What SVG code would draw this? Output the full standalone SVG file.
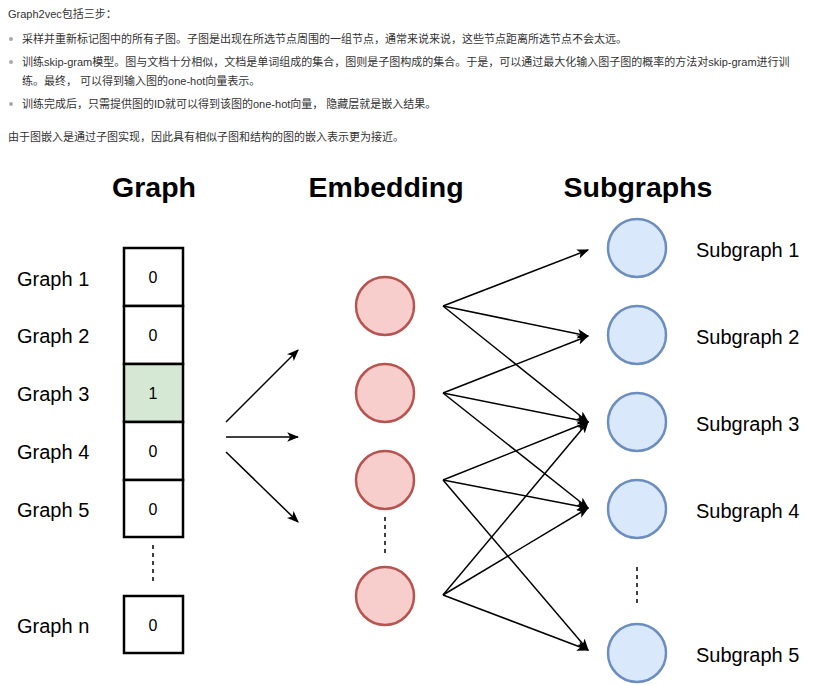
<svg xmlns="http://www.w3.org/2000/svg" width="815" height="685" viewBox="0 0 815 685">
<style>
.intro{font-family:"Liberation Sans","Noto Sans CJK SC",sans-serif;font-size:11px;fill:#333}
.bullet{fill:#aaa}
.head{font-family:"Liberation Sans",Arial,sans-serif;font-size:28.5px;font-weight:bold;fill:#000;text-anchor:middle}
.lbl{font-family:"Liberation Sans",Arial,sans-serif;font-size:20px;fill:#000}
.num{font-family:"Liberation Sans",Arial,sans-serif;font-size:16px;fill:#000;text-anchor:middle}
.box{fill:#fff;stroke:#000;stroke-width:2.5}
.box.on{fill:#d5e8d4}
.emb{fill:#f8cecc;stroke:#b85450;stroke-width:2.5}
.sub{fill:#dae8fc;stroke:#6c8ebf;stroke-width:2.5}
.dash{stroke:#000;stroke-width:1.5;stroke-dasharray:4,4;fill:none}
.edge{stroke:#000;stroke-width:1.5;fill:none;marker-end:url(#arr)}
</style>
<defs>
<marker id="arr" viewBox="0 0 10 8" refX="9" refY="4" markerWidth="12" markerHeight="10" markerUnits="userSpaceOnUse" orient="auto">
<path d="M0,0 L10,4 L0,8 L2.5,4 z" fill="#000"/>
</marker>
</defs>
<rect width="815" height="685" fill="#fff"/>
<g id="intro">
<text class="intro" x="8" y="18">Graph2vec包括三步：</text>
<circle class="bullet" cx="11" cy="39" r="2"/>
<text class="intro" x="22" y="43">采样并重新标记图中的所有子图。子图是出现在所选节点周围的一组节点，通常来说来说，这些节点距离所选节点不会太远。</text>
<circle class="bullet" cx="11" cy="62" r="2"/>
<text class="intro" x="22" y="66">训练skip-gram模型。图与文档十分相似，文档是单词组成的集合，图则是子图构成的集合。于是，可以通过最大化输入图子图的概率的方法对skip-gram进行训</text>
<text class="intro" x="22" y="85">练。最终， 可以得到输入图的one-hot向量表示。</text>
<circle class="bullet" cx="11" cy="104" r="2"/>
<text class="intro" x="22" y="108">训练完成后，只需提供图的ID就可以得到该图的one-hot向量， 隐藏层就是嵌入结果。</text>
<text class="intro" x="8" y="141">由于图嵌入是通过子图实现，因此具有相似子图和结构的图的嵌入表示更为接近。</text>
</g>
<g id="headings">
<text class="head" x="154" y="197">Graph</text>
<text class="head" x="386" y="197">Embedding</text>
<text class="head" x="638" y="197">Subgraphs</text>
</g>
<g id="graph1"><text class="lbl" x="17" y="286">Graph 1</text><rect class="box" x="124" y="248" width="59" height="58"/><text class="num" x="153" y="283">0</text></g>
<g id="graph2"><text class="lbl" x="17" y="343">Graph 2</text><rect class="box" x="124" y="306" width="59" height="58"/><text class="num" x="153" y="341">0</text></g>
<g id="graph3"><text class="lbl" x="17" y="401">Graph 3</text><rect class="box on" x="124" y="364" width="59" height="58"/><text class="num" x="153" y="399">1</text></g>
<g id="graph4"><text class="lbl" x="17" y="459">Graph 4</text><rect class="box" x="124" y="422" width="59" height="58"/><text class="num" x="153" y="457">0</text></g>
<g id="graph5"><text class="lbl" x="17" y="517">Graph 5</text><rect class="box" x="124" y="480" width="59" height="57"/><text class="num" x="153" y="515">0</text></g>
<g id="graphn"><text class="lbl" x="17" y="633">Graph n</text><rect class="box" x="124" y="596" width="59" height="57"/><text class="num" x="153" y="631">0</text></g>
<g id="emb1"><circle class="emb" cx="385" cy="306" r="29"/></g>
<g id="emb2"><circle class="emb" cx="385" cy="393" r="29"/></g>
<g id="emb3"><circle class="emb" cx="385" cy="480" r="29"/></g>
<g id="emb4"><circle class="emb" cx="385" cy="596" r="29"/></g>
<g id="sub1"><circle class="sub" cx="637" cy="248" r="29"/><text class="lbl" x="696" y="257">Subgraph 1</text></g>
<g id="sub2"><circle class="sub" cx="637" cy="335" r="29"/><text class="lbl" x="696" y="344">Subgraph 2</text></g>
<g id="sub3"><circle class="sub" cx="637" cy="422" r="29"/><text class="lbl" x="696" y="431">Subgraph 3</text></g>
<g id="sub4"><circle class="sub" cx="637" cy="509" r="29"/><text class="lbl" x="696" y="518">Subgraph 4</text></g>
<g id="sub5"><circle class="sub" cx="637" cy="653" r="29"/><text class="lbl" x="696" y="662">Subgraph 5</text></g>
<g id="ellipses">
<line class="dash" x1="153" y1="545" x2="153" y2="585"/>
<line class="dash" x1="385" y1="517" x2="385" y2="556"/>
<line class="dash" x1="637" y1="567" x2="637" y2="606"/>
</g>
<g id="connectors">
<line class="edge" x1="226" y1="422" x2="298" y2="350"/>
<line class="edge" x1="226" y1="437" x2="298" y2="437"/>
<line class="edge" x1="226" y1="452" x2="298" y2="522"/>
<line class="edge" x1="443" y1="306" x2="588" y2="250"/>
<line class="edge" x1="443" y1="306" x2="588" y2="336"/>
<line class="edge" x1="443" y1="306" x2="588" y2="422"/>
<line class="edge" x1="443" y1="393" x2="588" y2="336"/>
<line class="edge" x1="443" y1="393" x2="588" y2="422"/>
<line class="edge" x1="443" y1="393" x2="588" y2="508"/>
<line class="edge" x1="443" y1="480" x2="588" y2="422"/>
<line class="edge" x1="443" y1="480" x2="588" y2="508"/>
<line class="edge" x1="443" y1="480" x2="588" y2="650"/>
<line class="edge" x1="443" y1="595" x2="588" y2="422"/>
<line class="edge" x1="443" y1="595" x2="588" y2="508"/>
<line class="edge" x1="443" y1="595" x2="588" y2="650"/>
</g>
</svg>
